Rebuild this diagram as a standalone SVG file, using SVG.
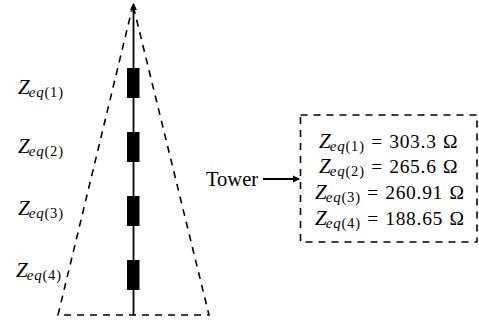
<svg xmlns="http://www.w3.org/2000/svg" width="479" height="326" viewBox="0 0 479 326">
<defs>
<marker id="ah" markerUnits="userSpaceOnUse" markerWidth="8" markerHeight="10" refX="6" refY="4" orient="auto"><path d="M0,0.5 L7,4 L0,7.500 Z" fill="#000"/></marker>
<marker id="ah2" markerUnits="userSpaceOnUse" markerWidth="8" markerHeight="8" refX="6" refY="4" orient="auto"><path d="M0,0.500 L7,4 L0,7.500 Z" fill="#000"/></marker>
</defs>
<style>
text{font-family:"Liberation Serif",serif;fill:#000}
.z{font-size:21px}
.s{font-size:15px;font-style:italic;letter-spacing:.8px}
.p{font-size:14.5px;font-style:normal;letter-spacing:.8px}
.v{font-size:19.5px;font-style:normal;letter-spacing:.7px;word-spacing:.8px}
.d{fill:none;stroke:#000;stroke-width:1.6;stroke-dasharray:7 6}
.b{fill:#000}
</style>
<g id="connectors">
<path d="M133.500,315 V4" stroke="#000" stroke-width="1.8" fill="none" marker-end="url(#ah)"/>
<path d="M263,179 H299" stroke="#000" stroke-width="2" fill="none" marker-end="url(#ah2)"/>
</g>
<g id="tower"><path class="d" d="M133,5 L58,315 H209 Z"/></g>
<g id="ins1"><rect class="b" x="127" y="68" width="12.500" height="30"/></g>
<g id="ins2"><rect class="b" x="127" y="132" width="12.500" height="30"/></g>
<g id="ins3"><rect class="b" x="127" y="196" width="12.500" height="30"/></g>
<g id="ins4"><rect class="b" x="127" y="260" width="12.500" height="30"/></g>
<g id="labels">
<text x="18" y="94" class="z" font-style="italic">Z<tspan class="s" dy="3" dx="-1">eq</tspan><tspan class="p">(1)</tspan></text>
<text x="18" y="153" class="z" font-style="italic">Z<tspan class="s" dy="3" dx="-1">eq</tspan><tspan class="p">(2)</tspan></text>
<text x="18" y="215" class="z" font-style="italic">Z<tspan class="s" dy="3" dx="-1">eq</tspan><tspan class="p">(3)</tspan></text>
<text x="16" y="277" class="z" font-style="italic">Z<tspan class="s" dy="3" dx="-1">eq</tspan><tspan class="p">(4)</tspan></text>
</g>
<g id="towerlabel"><text x="206" y="186" font-size="20.500">Tower</text></g>
<g id="box">
<rect class="d" x="300.500" y="115" width="176.500" height="127"/>
<text x="319" y="148" class="z" font-style="italic">Z<tspan class="s" dy="3" dx="-1">eq</tspan><tspan class="p">(1)</tspan><tspan class="v" dy="-3"> = 303.3 Ω</tspan></text>
<text x="319" y="173" class="z" font-style="italic">Z<tspan class="s" dy="3" dx="-1">eq</tspan><tspan class="p">(2)</tspan><tspan class="v" dy="-3"> = 265.6 Ω</tspan></text>
<text x="315" y="199" class="z" font-style="italic">Z<tspan class="s" dy="3" dx="-1">eq</tspan><tspan class="p">(3)</tspan><tspan class="v" dy="-3"> = 260.91 Ω</tspan></text>
<text x="315" y="225" class="z" font-style="italic">Z<tspan class="s" dy="3" dx="-1">eq</tspan><tspan class="p">(4)</tspan><tspan class="v" dy="-3"> = 188.65 Ω</tspan></text>
</g>
</svg>
